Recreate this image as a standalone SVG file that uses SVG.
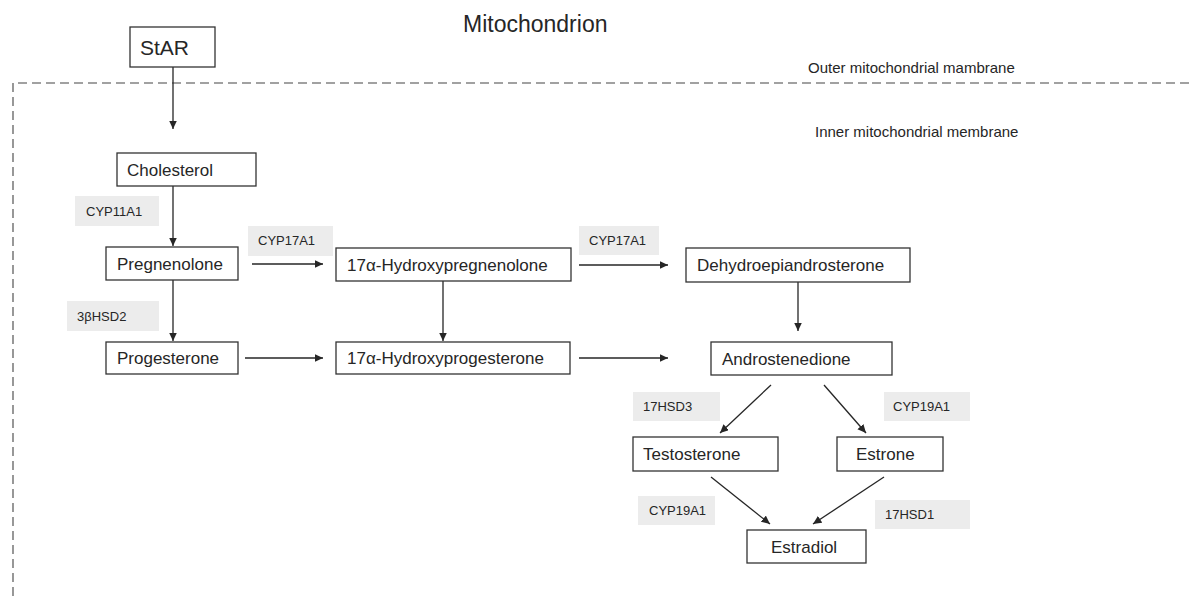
<svg xmlns="http://www.w3.org/2000/svg" width="1189" height="596" viewBox="0 0 1189 596">
<style>
text{font-family:"Liberation Sans",Arial,sans-serif;fill:#262626}
.node rect{fill:#fff;stroke:#333;stroke-width:1.3}
.nt{font-size:17px}
.lab rect{fill:#ececec}
.lt{font-size:13px}
.edge{stroke:#262626;stroke-width:1.3;fill:none;marker-end:url(#ah)}
.dash{stroke:#444;stroke-width:1.1;fill:none;stroke-dasharray:9 5}
</style>
<defs>
<marker id="ah" markerUnits="userSpaceOnUse" markerWidth="10" markerHeight="9" refX="8.5" refY="4" orient="auto">
<path d="M0,0 L8.5,4 L0,8 z" fill="#262626"/>
</marker>
</defs>
<rect width="1189" height="596" fill="#fff"/>
<text x="463" y="32" font-size="23">Mitochondrion</text>
<path class="dash" d="M13,596 V83 H1189"/>
<text x="808" y="73" font-size="15">Outer mitochondrial mambrane</text>
<text x="815" y="137" font-size="15">Inner mitochondrial membrane</text>

<g id="connectors">
<line class="edge" x1="173" y1="67" x2="173" y2="129"/>
<line class="edge" x1="173" y1="186" x2="173" y2="246"/>
<line class="edge" x1="173" y1="280" x2="173" y2="341"/>
<line class="edge" x1="252" y1="264" x2="323" y2="264"/>
<line class="edge" x1="245" y1="358" x2="323" y2="358"/>
<line class="edge" x1="443" y1="281" x2="443" y2="341"/>
<line class="edge" x1="579" y1="265" x2="668" y2="265"/>
<line class="edge" x1="579" y1="358" x2="668" y2="358"/>
<line class="edge" x1="798" y1="282" x2="798" y2="331"/>
<line class="edge" x1="771" y1="385" x2="720" y2="433"/>
<line class="edge" x1="824" y1="385" x2="866" y2="433"/>
<line class="edge" x1="711" y1="477" x2="770" y2="524"/>
<line class="edge" x1="884" y1="477" x2="813" y2="524"/>
</g>

<g id="StAR" class="node"><rect x="130" y="27" width="85" height="40"/><text x="140" y="55" font-size="21">StAR</text></g>
<g id="Cholesterol" class="node"><rect x="117" y="153" width="139" height="33"/><text class="nt" x="127" y="176">Cholesterol</text></g>
<g id="Pregnenolone" class="node"><rect x="106" y="247" width="132" height="33"/><text class="nt" x="117" y="270">Pregnenolone</text></g>
<g id="Progesterone" class="node"><rect x="106" y="342" width="132" height="32"/><text class="nt" x="117" y="364">Progesterone</text></g>
<g id="OHPreg" class="node"><rect x="336" y="248" width="235" height="33"/><text class="nt" x="347" y="271">17α-Hydroxypregnenolone</text></g>
<g id="OHProg" class="node"><rect x="336" y="342" width="234" height="32"/><text class="nt" x="347" y="364">17α-Hydroxyprogesterone</text></g>
<g id="DHEA" class="node"><rect x="686" y="248" width="224" height="34"/><text class="nt" x="697" y="271">Dehydroepiandrosterone</text></g>
<g id="Androstenedione" class="node"><rect x="711" y="342" width="181" height="33"/><text class="nt" x="722" y="365">Androstenedione</text></g>
<g id="Testosterone" class="node"><rect x="633" y="437" width="145" height="34"/><text class="nt" x="643" y="460">Testosterone</text></g>
<g id="Estrone" class="node"><rect x="837" y="437" width="106" height="34"/><text class="nt" x="856" y="460">Estrone</text></g>
<g id="Estradiol" class="node"><rect x="747" y="530" width="119" height="33"/><text class="nt" x="771" y="553">Estradiol</text></g>

<g id="lab-CYP11A1" class="lab"><rect x="75" y="196" width="84" height="30"/><text class="lt" x="86" y="216">CYP11A1</text></g>
<g id="lab-3bHSD2" class="lab"><rect x="67" y="301" width="92" height="30"/><text class="lt" x="77" y="321">3βHSD2</text></g>
<g id="lab-CYP17A1a" class="lab"><rect x="248" y="226" width="85" height="30"/><text class="lt" x="258" y="245">CYP17A1</text></g>
<g id="lab-CYP17A1b" class="lab"><rect x="579" y="226" width="80" height="29"/><text class="lt" x="589" y="245">CYP17A1</text></g>
<g id="lab-17HSD3" class="lab"><rect x="633" y="392" width="87" height="29"/><text class="lt" x="643" y="411">17HSD3</text></g>
<g id="lab-CYP19A1a" class="lab"><rect x="884" y="392" width="86" height="29"/><text class="lt" x="893" y="411">CYP19A1</text></g>
<g id="lab-CYP19A1b" class="lab"><rect x="638" y="496" width="77" height="29"/><text class="lt" x="649" y="515">CYP19A1</text></g>
<g id="lab-17HSD1" class="lab"><rect x="875" y="500" width="95" height="29"/><text class="lt" x="885" y="519">17HSD1</text></g>
</svg>
